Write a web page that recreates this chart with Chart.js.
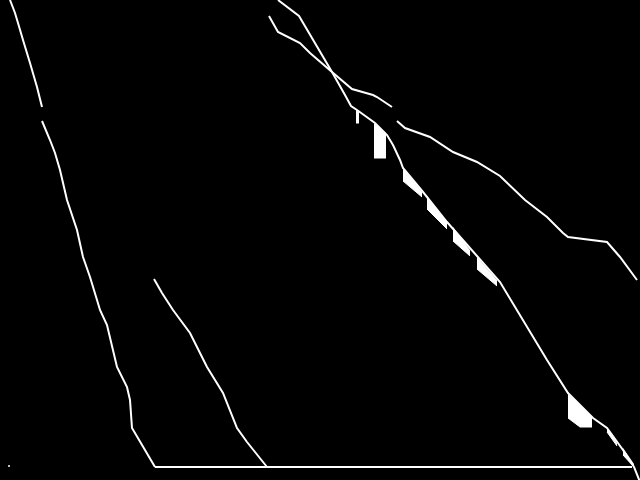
<!DOCTYPE html>
<html>
<head>
<meta charset="utf-8">
<script src="https://cdn.jsdelivr.net/npm/chart.js@4"></script>
<style>
  html, body { margin: 0; padding: 0; background: #000; }
  #wrap { width: 640px; height: 480px; }
  canvas { background: #000; display: block; }
</style>
</head>
<body>
<div id="wrap"><canvas id="myChart" width="640" height="480"></canvas></div>
<script>
// series (x across, y down)
const lineAX = [10, 15, 18, 23, 30, 37, 42, 42, 42, 50, 55, 60, 67, 77, 83, 90, 97, 100, 107, 117, 127, 130, 132, 155];
const lineAY = [0, 13, 23, 40, 63, 87, 107, null, 121, 140, 153, 170, 200, 230, 257, 277, 300, 310, 325, 367, 387, 400, 428, 467];

const lineBX = [154, 162, 173, 190, 207, 223, 237, 247, 267];
const lineBY = [279, 293, 310, 333, 367, 393, 428, 442, 467];

const line1X = [278, 299, 332, 345, 351, 357, 375, 387, 393, 400, 403, 423, 447, 500, 547, 568, 593, 607, 623, 634, 640];
const line1Y = [0, 16, 72, 95, 106, 110, 123, 135, 145, 160, 168, 192, 222, 282, 360, 393, 418, 428, 450, 467, 482];

const line2X = [269, 278, 300, 310, 332, 352, 373, 377, 392, 394, 397, 405, 430, 453, 477, 500, 525, 547, 563, 568, 607, 620, 637];
const line2Y = [16, 32, 43, 53, 72, 89, 95, 97, 107, null, 121, 128, 137, 152, 162, 176, 200, 217, 233, 237, 242, 257, 280];

const baseX = [155, 632];
const baseY = [467, 467];

const bandX = [356, 359, 365, 374, 386, 395, 403, 422, 425, 427, 447, 450, 453, 470, 473, 477, 497, 530, 568, 580, 592, 600, 607, 617, 620, 623, 634];
const bandTop = [110, 112, null, 123, 133, null, 168, 192, null, 196, 222, null, 227, 250, null, 257, 280, null, 394, 405, 417, null, 428, 443, null, 448, 464];
const bandBottom = [123, 123, null, 158, 158, null, 181, 197, null, 209, 229, null, 241, 256, null, 269, 286, null, 418, 427, 427, null, 432, 446, null, 455, 467];

const dotX = [9];
const dotY = [466];

function pts(xs, ys) {
    return xs.map((x, i) => ({ x: x, y: ys[i] }))
}

const white = '#ffffff'

function lineSet(label, xs, ys) {
    return {
        label: label,
        data: pts(xs, ys),
        borderColor: white,
        borderWidth: 2,
        pointRadius: 0,
        tension: 0,
        spanGaps: false,
        fill: false
    }
}

const data = {
    datasets: [
        {
            label: 'bandTop',
            data: pts(bandX, bandTop),
            borderColor: 'rgba(0,0,0,0)',
            borderWidth: 0,
            pointRadius: 0,
            spanGaps: false,
            fill: false
        },
        {
            label: 'bandBottom',
            data: pts(bandX, bandBottom),
            borderColor: white,
            borderWidth: 1,
            backgroundColor: white,
            pointRadius: 0,
            spanGaps: false,
            fill: '-1'
        },
        lineSet('A', lineAX, lineAY),
        lineSet('B', lineBX, lineBY),
        lineSet('1', line1X, line1Y),
        lineSet('2', line2X, line2Y),
        lineSet('base', baseX, baseY),
        {
            label: 'dot',
            data: pts(dotX, dotY),
            showLine: false,
            pointRadius: 1,
            pointBorderWidth: 0,
            pointBackgroundColor: white
        }
    ]
};

const options = {
    responsive: false,
    animation: false,
    layout: { padding: 0, autoPadding: false },
    plugins: {
        legend: { display: false },
        tooltip: { enabled: false },
        filler: { propagate: false }
    },
    scales: {
        x: { type: 'linear', min: 0, max: 640, display: false },
        y: { type: 'linear', min: 0, max: 480, reverse: true, display: false }
    }
};

new Chart(document.getElementById('myChart'), {
    type: 'line',
    data: data,
    options: options
});
</script>
</body>
</html>
